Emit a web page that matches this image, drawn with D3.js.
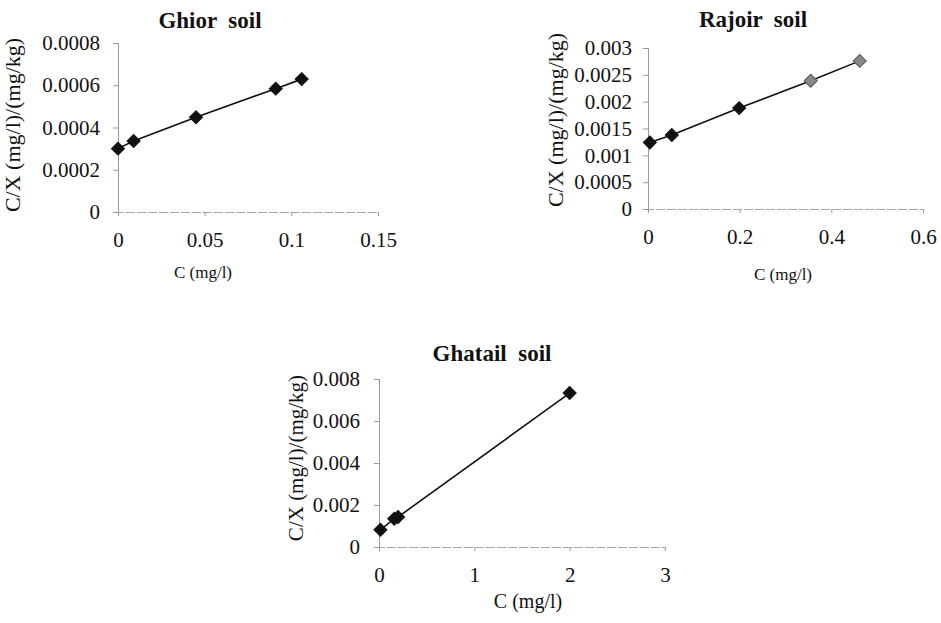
<html>
<head>
<script src="https://d3js.org/d3.v7.min.js"></script>
<style>
  body { margin: 0; background: #fff; }
  svg text { font-family: "Liberation Serif", "Times New Roman", Times, serif !important; fill: #111; }
</style>
</head>
<body>
<svg id="chart" width="941" height="623"></svg>
<script>
// ---- data ----
var ghiorC  = [0, 0.009, 0.045, 0.091, 0.106]
var ghiorCX = [0.0003, 0.000336, 0.000449, 0.000584, 0.000629]
var ghiorXTicks = [0, 0.05, 0.1, 0.15]
var ghiorXLabels = ["0", "0.05", "0.1", "0.15"]
var ghiorYTicks = [0, 0.0002, 0.0004, 0.0006, 0.0008]
var ghiorYLabels = ["0", "0.0002", "0.0004", "0.0006", "0.0008"]

var rajoirC  = [0.004, 0.052, 0.199, 0.355, 0.462]
var rajoirCX = [0.00124, 0.00138, 0.00188, 0.00239, 0.00276]
var rajoirXTicks = [0, 0.2, 0.4, 0.6]
var rajoirXLabels = ["0", "0.2", "0.4", "0.6"]
var rajoirYTicks = [0, 0.0005, 0.001, 0.0015, 0.002, 0.0025, 0.003]
var rajoirYLabels = ["0", "0.0005", "0.001", "0.0015", "0.002", "0.0025", "0.003"]

var ghatailC  = [0.015, 0.16, 0.2, 2.0]
var ghatailCX = [0.00082, 0.00135, 0.00143, 0.00733]
var ghatailXTicks = [0, 1, 2, 3]
var ghatailXLabels = ["0", "1", "2", "3"]
var ghatailYTicks = [0, 0.002, 0.004, 0.006, 0.008]
var ghatailYLabels = ["0", "0.002", "0.004", "0.006", "0.008"]

var svg = d3.select("#chart")

// one panel = one small scatter with a line through the points
function panel(cfg) {
  var x = d3.scaleLinear().domain([cfg.xTicks[0], cfg.xTicks[cfg.xTicks.length - 1]]).range(cfg.xr)
  var y = d3.scaleLinear().domain([cfg.yTicks[0], cfg.yTicks[cfg.yTicks.length - 1]]).range(cfg.yr)
  var g = svg.append("g")

  // y axis
  var ya = g.append("g")
    .attr("transform", "translate(" + cfg.xr[0] + ",0)")
    .call(d3.axisLeft(y).tickValues(cfg.yTicks).tickSize(5).tickPadding(cfg.yPad)
      .tickFormat(function(d, i) { return cfg.yLabels[i] }))
  ya.select(".domain").attr("stroke", "#999")
  ya.selectAll(".tick line").attr("stroke", "#999")
  ya.selectAll(".tick text").attr("font-size", cfg.tickSize)

  // x axis
  var xa = g.append("g")
    .attr("transform", "translate(0," + cfg.yr[0] + ")")
    .call(d3.axisBottom(x).tickValues(cfg.xTicks).tickSize(4).tickPadding(cfg.xPad)
      .tickFormat(function(d, i) { return cfg.xLabels[i] }))
  xa.select(".domain").attr("stroke", "#aaa").attr("stroke-dasharray", "9,2")
  xa.selectAll(".tick line").attr("stroke", "#999")
  xa.selectAll(".tick text").attr("font-size", cfg.tickSize)

  var pts = cfg.xs.map(function(v, i) { return [v, cfg.ys[i]] })

  g.append("path")
    .attr("d", d3.line().x(function(d) { return x(d[0]) }).y(function(d) { return y(d[1]) })(pts))
    .attr("fill", "none")
    .attr("stroke", "#111")
    .attr("stroke-width", 1.6)

  g.selectAll(".pt")
    .data(pts)
    .enter().append("path")
    .attr("d", d3.symbol().type(d3.symbolSquare).size(85))
    .attr("transform", function(d) { return "translate(" + x(d[0]) + "," + y(d[1]) + ") rotate(45)" })
    .attr("fill", function(d, i) { return cfg.grey && i >= 3 ? "#888" : "#111" })
    .attr("stroke", function(d, i) { return cfg.grey && i >= 3 ? "#555" : "#111" })

  // titles
  g.append("text")
    .attr("x", cfg.title[1]).attr("y", cfg.title[2])
    .attr("text-anchor", "middle")
    .attr("font-weight", "bold")
    .attr("font-size", cfg.title[3])
    .style("white-space", "pre")
    .text(cfg.title[0])

  g.append("text")
    .attr("x", cfg.xTitle[0]).attr("y", cfg.xTitle[1])
    .attr("text-anchor", "middle")
    .attr("font-size", cfg.xTitle[2])
    .text("C (mg/l)")

  g.append("text")
    .attr("transform", "translate(" + cfg.yTitle[0] + "," + cfg.yTitle[1] + ") rotate(-90)")
    .attr("text-anchor", "middle")
    .attr("font-size", cfg.yTitle[2])
    .text("C/X (mg/l)/(mg/kg)")
}

panel({
  xs: ghiorC, ys: ghiorCX,
  xTicks: ghiorXTicks, xLabels: ghiorXLabels, yTicks: ghiorYTicks, yLabels: ghiorYLabels,
  xr: [118, 378], yr: [212, 43], tickSize: 21, xPad: 16, yPad: 13,
  title: ["Ghior  soil", 210, 28, 23],
  xTitle: [203, 278, 17],
  yTitle: [20, 125, 22]
})

panel({
  xs: rajoirC, ys: rajoirCX,
  xTicks: rajoirXTicks, xLabels: rajoirXLabels, yTicks: rajoirYTicks, yLabels: rajoirYLabels,
  xr: [648, 923], yr: [209, 48], tickSize: 21, xPad: 16, yPad: 11, grey: true,
  title: ["Rajoir  soil", 753, 27, 23],
  xTitle: [783, 280, 17],
  yTitle: [563, 120, 22]
})

panel({
  xs: ghatailC, ys: ghatailCX,
  xTicks: ghatailXTicks, xLabels: ghatailXLabels, yTicks: ghatailYTicks, yLabels: ghatailYLabels,
  xr: [379, 665], yr: [547, 379], tickSize: 21, xPad: 16, yPad: 14,
  title: ["Ghatail  soil", 492, 361, 23],
  xTitle: [528, 608, 20],
  yTitle: [303, 458, 21]
})
</script>
</body>
</html>
